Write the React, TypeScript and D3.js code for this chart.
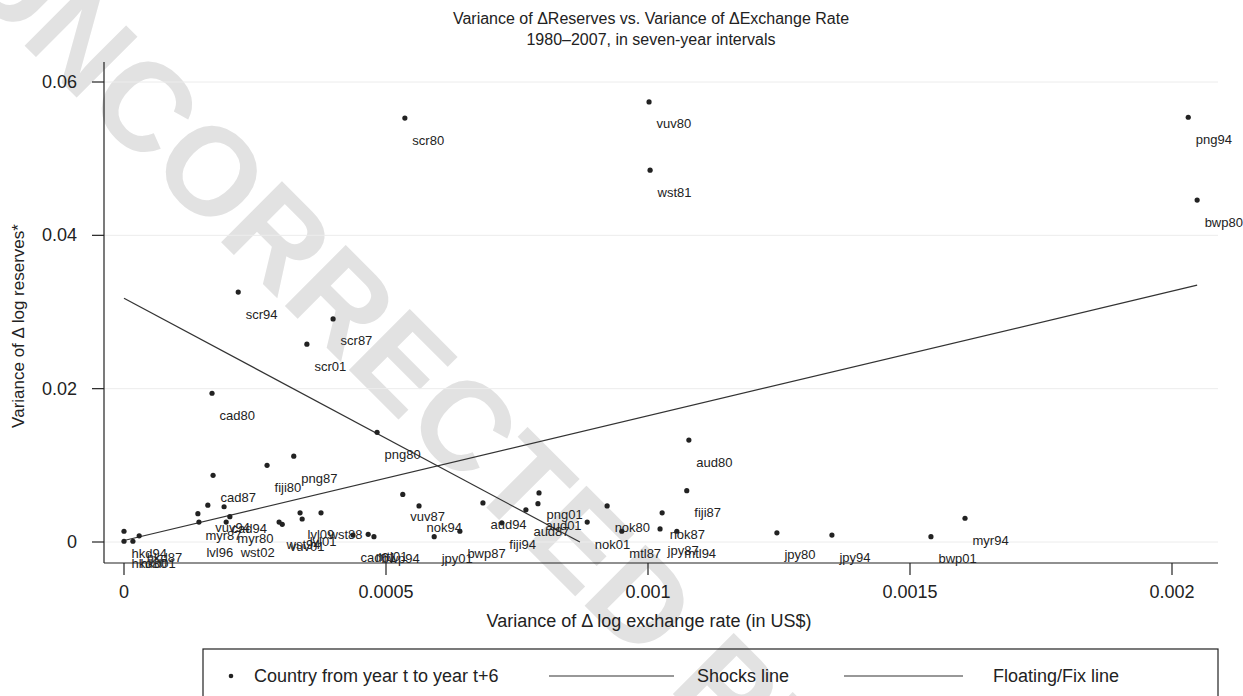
import React from 'react';
import * as d3 from 'd3';

// country + start year of each seven-year window
const labels = [
  'scr80', 'vuv80', 'wst81', 'png94', 'bwp80', 'scr94', 'scr87', 'scr01', 'cad80', 'png80',
  'aud80', 'fiji80', 'png87', 'cad87', 'fiji87', 'vuv87', 'nok94', 'aud94', 'png01', 'aud01',
  'aud87', 'fiji94', 'bwp87', 'jpy01', 'nok01', 'nok80', 'nok87', 'mtl87', 'jpy87', 'mtl94',
  'jpy80', 'jpy94', 'myr94', 'bwp01', 'hkd94', 'hkd80', 'hkd01', 'hkd87', 'vuv94', 'cad94',
  'myr87', 'myr80', 'lvl96', 'wst02', 'wst94', 'vuv01', 'lvl09', 'lvl01', 'wst88', 'cad01',
  'mtl01', 'bwp94',
];

// variance of delta log exchange rate
const varExchange = [
  0.000536, 0.001002, 0.001004, 0.002031, 0.002048, 0.000218, 0.000399, 0.000349, 0.000168, 0.000483,
  0.001078, 0.000273, 0.000324, 0.00017, 0.001074, 0.000532, 0.000563, 0.000685, 0.000792, 0.00079,
  0.000767, 0.000721, 0.000641, 0.000592, 0.000884, 0.000922, 0.001027, 0.00095, 0.001023, 0.001055,
  0.001246, 0.001351, 0.001605, 0.00154, 0.0, 0.0, 0.000017, 0.000029, 0.00016, 0.000191,
  0.000141, 0.000202, 0.000143, 0.000195, 0.000296, 0.000302, 0.000336, 0.00034, 0.000376, 0.000437,
  0.000466, 0.000477,
];

// variance of delta log reserves
const varReserves = [
  0.0553, 0.0574, 0.0485, 0.0554, 0.0446, 0.0326, 0.0291, 0.0258, 0.0194, 0.0143,
  0.0133, 0.01, 0.0112, 0.0087, 0.0067, 0.0062, 0.0047, 0.0051, 0.0064, 0.005,
  0.0042, 0.0025, 0.0014, 0.0007, 0.0026, 0.0047, 0.0038, 0.0014, 0.0017, 0.0014,
  0.0012, 0.0009, 0.0031, 0.0007, 0.0014, 0.0001, 0.0001, 0.0008, 0.0048, 0.0046,
  0.0037, 0.0033, 0.0026, 0.0026, 0.0026, 0.0023, 0.0038, 0.003, 0.0038, 0.0009,
  0.001, 0.0007,
];

const shocksX = [0, 0.00087];
const shocksY = [0.0318, 0];
const floatX = [0, 0.002048];
const floatY = [0.0002, 0.0335];

const xTicks = [0, 0.0005, 0.001, 0.0015, 0.002];
const xTickLabels = ['0', '0.0005', '0.001', '0.0015', '0.002'];
const yTicks = [0, 0.02, 0.04, 0.06];
const yTickLabels = ['0', '0.02', '0.04', '0.06'];

// a couple of labels sit lower than the default marker-label spot
const labelNudge: Record<string, [number, number]> = {
  lvl96: [0, 8],
  wst02: [7, 8],
};

const FONT = '"Liberation Sans", Arial, Helvetica, sans-serif';
const INK = '#222';

export default function App() {
  const W = 1243;
  const H = 696;
  const x = d3.scaleLinear().domain([0, 0.002]).range([124, 1172]);
  const y = d3.scaleLinear().domain([0, 0.06]).range([542, 82]);
  const axisLeft = 104;
  const axisBottom = 563;
  const plotRight = 1218;

  const line = d3.line<[number, number]>()
    .x(d => x(d[0]))
    .y(d => y(d[1]));

  const shocks = shocksX.map((v, i) => [v, shocksY[i]] as [number, number]);
  const floating = floatX.map((v, i) => [v, floatY[i]] as [number, number]);

  return (
    <svg
      width={W}
      height={H}
      style={{ position: 'absolute', left: 0, top: 0, background: '#fff' }}
      fontFamily={FONT}
    >
      <rect width={W} height={H} fill="#fff" />

      {/* proof watermark */}
      <text
        transform="translate(-45,-24) rotate(45)"
        fontSize={125}
        fontWeight="bold"
        fill="#e2e2e2"
      >
        UNCORRECTED PROOF
      </text>

      {/* title */}
      <text x={651} y={24} textAnchor="middle" fontSize={16} fill={INK}>
        Variance of ΔReserves vs. Variance of ΔExchange Rate
      </text>
      <text x={651} y={45} textAnchor="middle" fontSize={16} fill={INK}>
        1980–2007, in seven-year intervals
      </text>

      {/* grid */}
      {yTicks.map(t => (
        <line key={'g' + t} x1={axisLeft} x2={plotRight} y1={y(t)} y2={y(t)} stroke="#ececec" strokeWidth={1} />
      ))}

      {/* axes */}
      <line x1={axisLeft} x2={axisLeft} y1={62} y2={axisBottom} stroke={INK} strokeWidth={1.2} />
      <line x1={axisLeft} x2={plotRight} y1={axisBottom} y2={axisBottom} stroke={INK} strokeWidth={1.2} />

      {yTicks.map((t, i) => (
        <g key={'yt' + t}>
          <line x1={92} x2={axisLeft} y1={y(t)} y2={y(t)} stroke={INK} strokeWidth={1.2} />
          <text x={77} y={y(t)} textAnchor="end" dominantBaseline="central" fontSize={18} fill={INK}>
            {yTickLabels[i]}
          </text>
        </g>
      ))}
      {xTicks.map((t, i) => (
        <g key={'xt' + t}>
          <line x1={x(t)} x2={x(t)} y1={axisBottom} y2={575} stroke={INK} strokeWidth={1.2} />
          <text x={x(t)} y={592} textAnchor="middle" dominantBaseline="central" fontSize={18} fill={INK}>
            {xTickLabels[i]}
          </text>
        </g>
      ))}

      <text x={649} y={621} textAnchor="middle" dominantBaseline="central" fontSize={18} fill={INK}>
        Variance of Δ log exchange rate (in US$)
      </text>
      <text
        transform="translate(18,326) rotate(-90)"
        textAnchor="middle"
        dominantBaseline="central"
        fontSize={17}
        fill={INK}
      >
        Variance of Δ log reserves*
      </text>

      {/* fitted lines */}
      <path d={line(shocks) || ''} fill="none" stroke="#333" strokeWidth={1.2} />
      <path d={line(floating) || ''} fill="none" stroke="#333" strokeWidth={1.2} />

      {/* points */}
      {labels.map((lab, i) => {
        const cx = x(varExchange[i]);
        const cy = y(varReserves[i]);
        const [nx, ny] = labelNudge[lab] || [0, 0];
        return (
          <g key={lab}>
            <circle cx={cx} cy={cy} r={2.6} fill={INK} />
            <text x={cx + 7.5 + nx} y={cy + 22 + ny} dominantBaseline="central" fontSize={13} fill={INK}>
              {lab}
            </text>
          </g>
        );
      })}

      {/* legend */}
      <rect x={203} y={649} width={1015} height={70} fill="none" stroke={INK} strokeWidth={1.2} />
      <circle cx={231} cy={676} r={2.3} fill={INK} />
      <text x={254} y={676} dominantBaseline="central" fontSize={18} fill={INK}>
        Country from year t to year t+6
      </text>
      <line x1={549} x2={674} y1={676} y2={676} stroke="#333" strokeWidth={1.2} />
      <text x={697} y={676} dominantBaseline="central" fontSize={18} fill={INK}>
        Shocks line
      </text>
      <line x1={844} x2={963} y1={676} y2={676} stroke="#333" strokeWidth={1.2} />
      <text x={993} y={676} dominantBaseline="central" fontSize={18} fill={INK}>
        Floating/Fix line
      </text>
    </svg>
  );
}
